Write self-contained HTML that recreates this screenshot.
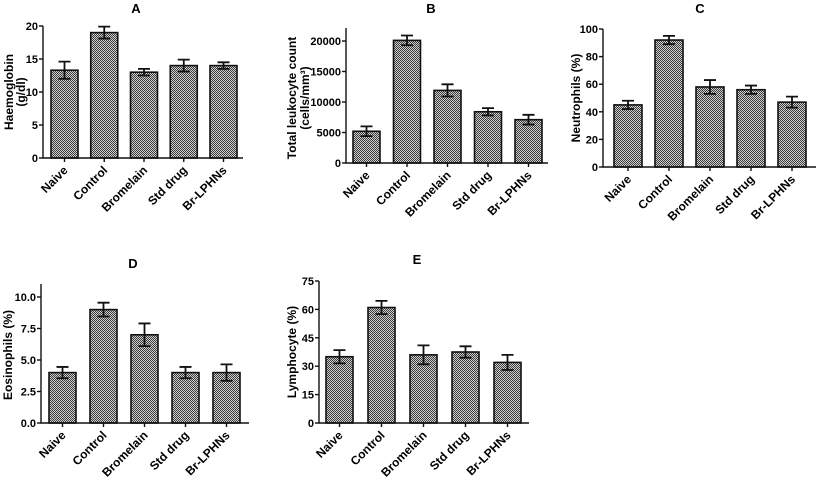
<!DOCTYPE html>
<html><head><meta charset="utf-8"><style>
html,body{margin:0;padding:0;background:#fff;}
svg{display:block;font-family:"Liberation Sans",Arial,sans-serif;font-weight:bold;}
</style></head><body>
<svg id="fig" width="817" height="483" viewBox="0 0 817 483" xmlns="http://www.w3.org/2000/svg">
<defs>
<pattern id="chk" width="2" height="2" patternUnits="userSpaceOnUse">
<rect width="2" height="2" fill="#d0d0d0"/>
<rect width="1" height="1" fill="#3a3a3a"/>
<rect x="1" y="1" width="1" height="1" fill="#3a3a3a"/>
</pattern>
</defs>
</svg>
<script>
const categories = ["Naive","Control","Bromelain","Std drug","Br-LPHNs"];
const valuesA = [13.3,19,13,14,14];
const errorsA = [1.3,0.9,0.5,0.9,0.5];
const ticksA = [0,5,10,15,20];
const valuesB = [5200,20100,11900,8400,7100];
const errorsB = [800,800,1000,600,800];
const ticksB = [0,5000,10000,15000,20000];
const valuesC = [45,92,58,56,47];
const errorsC = [3,3,5,3,4];
const ticksC = [0,20,40,60,80,100];
const valuesD = [4,9,7,4,4];
const errorsD = [0.45,0.55,0.9,0.45,0.65];
const ticksD = ["0.0","2.5","5.0","7.5","10.0"];
const valuesE = [35,61,36,37.5,32];
const errorsE = [3.5,3.5,5,3,4];
const ticksE = [0,15,30,45,60,75];

const NS="http://www.w3.org/2000/svg";
const svg=document.getElementById('fig');
function mk(tag,attrs,parent){const e=document.createElementNS(NS,tag);for(const k in attrs)e.setAttribute(k,attrs[k]);(parent||svg).appendChild(e);return e;}

const panels=[
 {id:'a',title:'A',tx:136,ty:13,ax:43,axEnd:243,yTop:26,y0:158,x0:51,step:39.75,bw:27,vals:valuesA,errs:errorsA,ticks:ticksA,ylab:["Haemoglobin","(g/dl)"],lx:[9,21],ly:92},
 {id:'b',title:'B',tx:431,ty:13,ax:346,axEnd:548,yTop:28,y0:163,yTickTop:41,x0:353,step:40.5,bw:27,vals:valuesB,errs:errorsB,ticks:ticksB,ylab:["Total leukocyte count","(cells/mm³)"],lx:[292,305],ly:98},
 {id:'c',title:'C',tx:700,ty:13,ax:603,axEnd:816,yTop:29,y0:167,x0:614,step:41,bw:28,vals:valuesC,errs:errorsC,ticks:ticksC,ylab:["Neutrophils (%)"],lx:[576],ly:98},
 {id:'d',title:'D',tx:133,ty:268,ax:41,axEnd:249,yTop:284,y0:423,yTickTop:297,x0:49,step:41,bw:27,vals:valuesD,errs:errorsD,ticks:ticksD,ylab:["Eosinophils (%)"],lx:[8],ly:355},
 {id:'e',title:'E',tx:417,ty:264,ax:319,axEnd:529,yTop:281,y0:423,x0:326,step:42,bw:27,vals:valuesE,errs:errorsE,ticks:ticksE,ylab:["Lymphocyte (%)"],lx:[292],ly:352}
];

panels.forEach(p=>{
  const g=mk('g',{});
  
  
  const yt = p.yTickTop!==undefined?p.yTickTop:p.yTop;
  const tmax = parseFloat(p.ticks[p.ticks.length-1]);
  const ys = v => p.y0 - (v/tmax)*(p.y0-yt);
  const t=mk('text',{x:p.tx,y:p.ty,'text-anchor':'middle','font-size':'13'},g);
  t.textContent=p.title;
  
  
  p.vals.forEach((v,i)=>{
    const x=p.x0+i*p.step;
    const r=mk('rect',{x:x,y:ys(v),width:p.bw,height:p.y0-ys(v),fill:'url(#chk)',stroke:'#111','stroke-width':1.6},g);
    
    
    const cx=x+p.bw/2, e=p.errs[i];
    const eb=mk('path',{d:`M${cx},${ys(v+e)}V${ys(v-e)}M${cx-6},${ys(v+e)}H${cx+6}M${cx-6},${ys(v-e)}H${cx+6}`,stroke:'#111','stroke-width':1.8,fill:'none'},g);
    
    
    const tk=mk('line',{x1:cx,x2:cx,y1:p.y0,y2:p.y0+4,stroke:'#111','stroke-width':1.4},g);
    
    
    const lb=mk('text',{x:cx+4,y:p.y0+13,'text-anchor':'end','font-size':'12',transform:`rotate(-45 ${cx+4} ${p.y0+13})`},g);
    lb.textContent=categories[i];
    
    
  });
  const ax=mk('path',{d:`M${p.ax},${p.yTop}V${p.y0}H${p.axEnd}`,stroke:'#111','stroke-width':1.4,fill:'none'},g);
  
  
  p.ticks.forEach(tv=>{
    const y=ys(parseFloat(tv));
    const l=mk('line',{x1:p.ax-4,x2:p.ax,y1:y,y2:y,stroke:'#111','stroke-width':1.4},g);
    
    
    const tt=mk('text',{x:p.ax-5,y:y+4,'text-anchor':'end','font-size':'11'},g);
    tt.textContent=tv;
    
    
  });
  p.ylab.forEach((s,k)=>{
    const x=p.lx[k];
    const yl=mk('text',{x:x,y:p.ly,'text-anchor':'middle','font-size':'12',transform:`rotate(-90 ${x} ${p.ly})`,'dominant-baseline':'central'},g);
    yl.textContent=s;
    
    
  });
});
</script>
</body></html>
